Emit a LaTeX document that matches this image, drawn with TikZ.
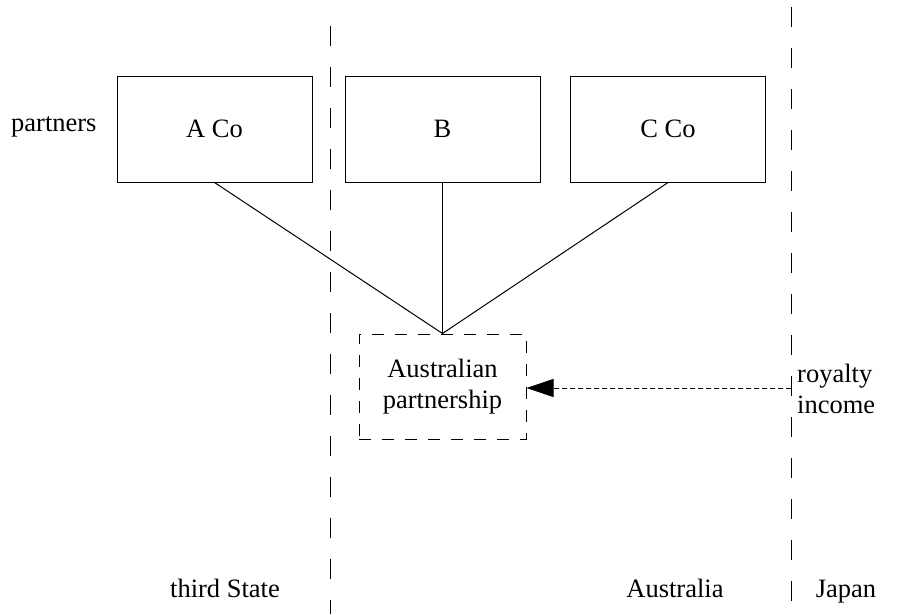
\documentclass[tikz,border=0pt]{standalone}
\usepackage{fontspec}
\setmainfont{Liberation Serif}
\usetikzlibrary{arrows.meta}
\begin{document}
\begin{tikzpicture}[x=1pt,y=-1pt,
  every node/.style={font=\fontsize{26.5}{31}\selectfont},
  partnerbox/.style={draw,line width=1pt,minimum width=195pt,minimum height=106pt,inner sep=0pt},
  pbox/.style={draw,line width=1pt,dash pattern=on 12pt off 11pt,minimum width=167pt,minimum height=105pt,inner sep=0pt,align=center},
  divider/.style={line width=1pt,dash pattern=on 20pt off 21pt},
  link/.style={line width=1pt},
  region/.style={anchor=base,inner sep=0pt},
  flow/.style={line width=1pt,dash pattern=on 5pt off 3pt,-{Triangle[length=27pt,width=18pt]}}]
\useasboundingbox (0,0) rectangle (908,614);
\draw[divider] (330,26) -- (330,614);
\draw[divider] (791,7) -- (791,614);
\node[partnerbox] (a) at (214.5,129) {A Co};
\node[partnerbox] (b) at (442.5,129) {B};
\node[partnerbox] (c) at (668,129) {C Co};
\node[pbox] (p) at (442.5,386.5) {Australian\\partnership};
\draw[link] (a.south) -- (p.north);
\draw[link] (b.south) -- (p.north);
\draw[link] (c.south) -- (p.north);
\coordinate (src) at (791,388);
\draw[flow] (src) -- (p.east |- src);
\node[anchor=west,inner sep=0pt] (partners) at (11,127) {partners};
\node[anchor=west,inner sep=0pt,align=left] (roy) at (797,389) {royalty\\income};
\node[region] (ts) at (225,597) {third State};
\node[region] (au) at (675,597) {Australia};
\node[region] (jp) at (846,597) {Japan};
\end{tikzpicture}
\end{document}
